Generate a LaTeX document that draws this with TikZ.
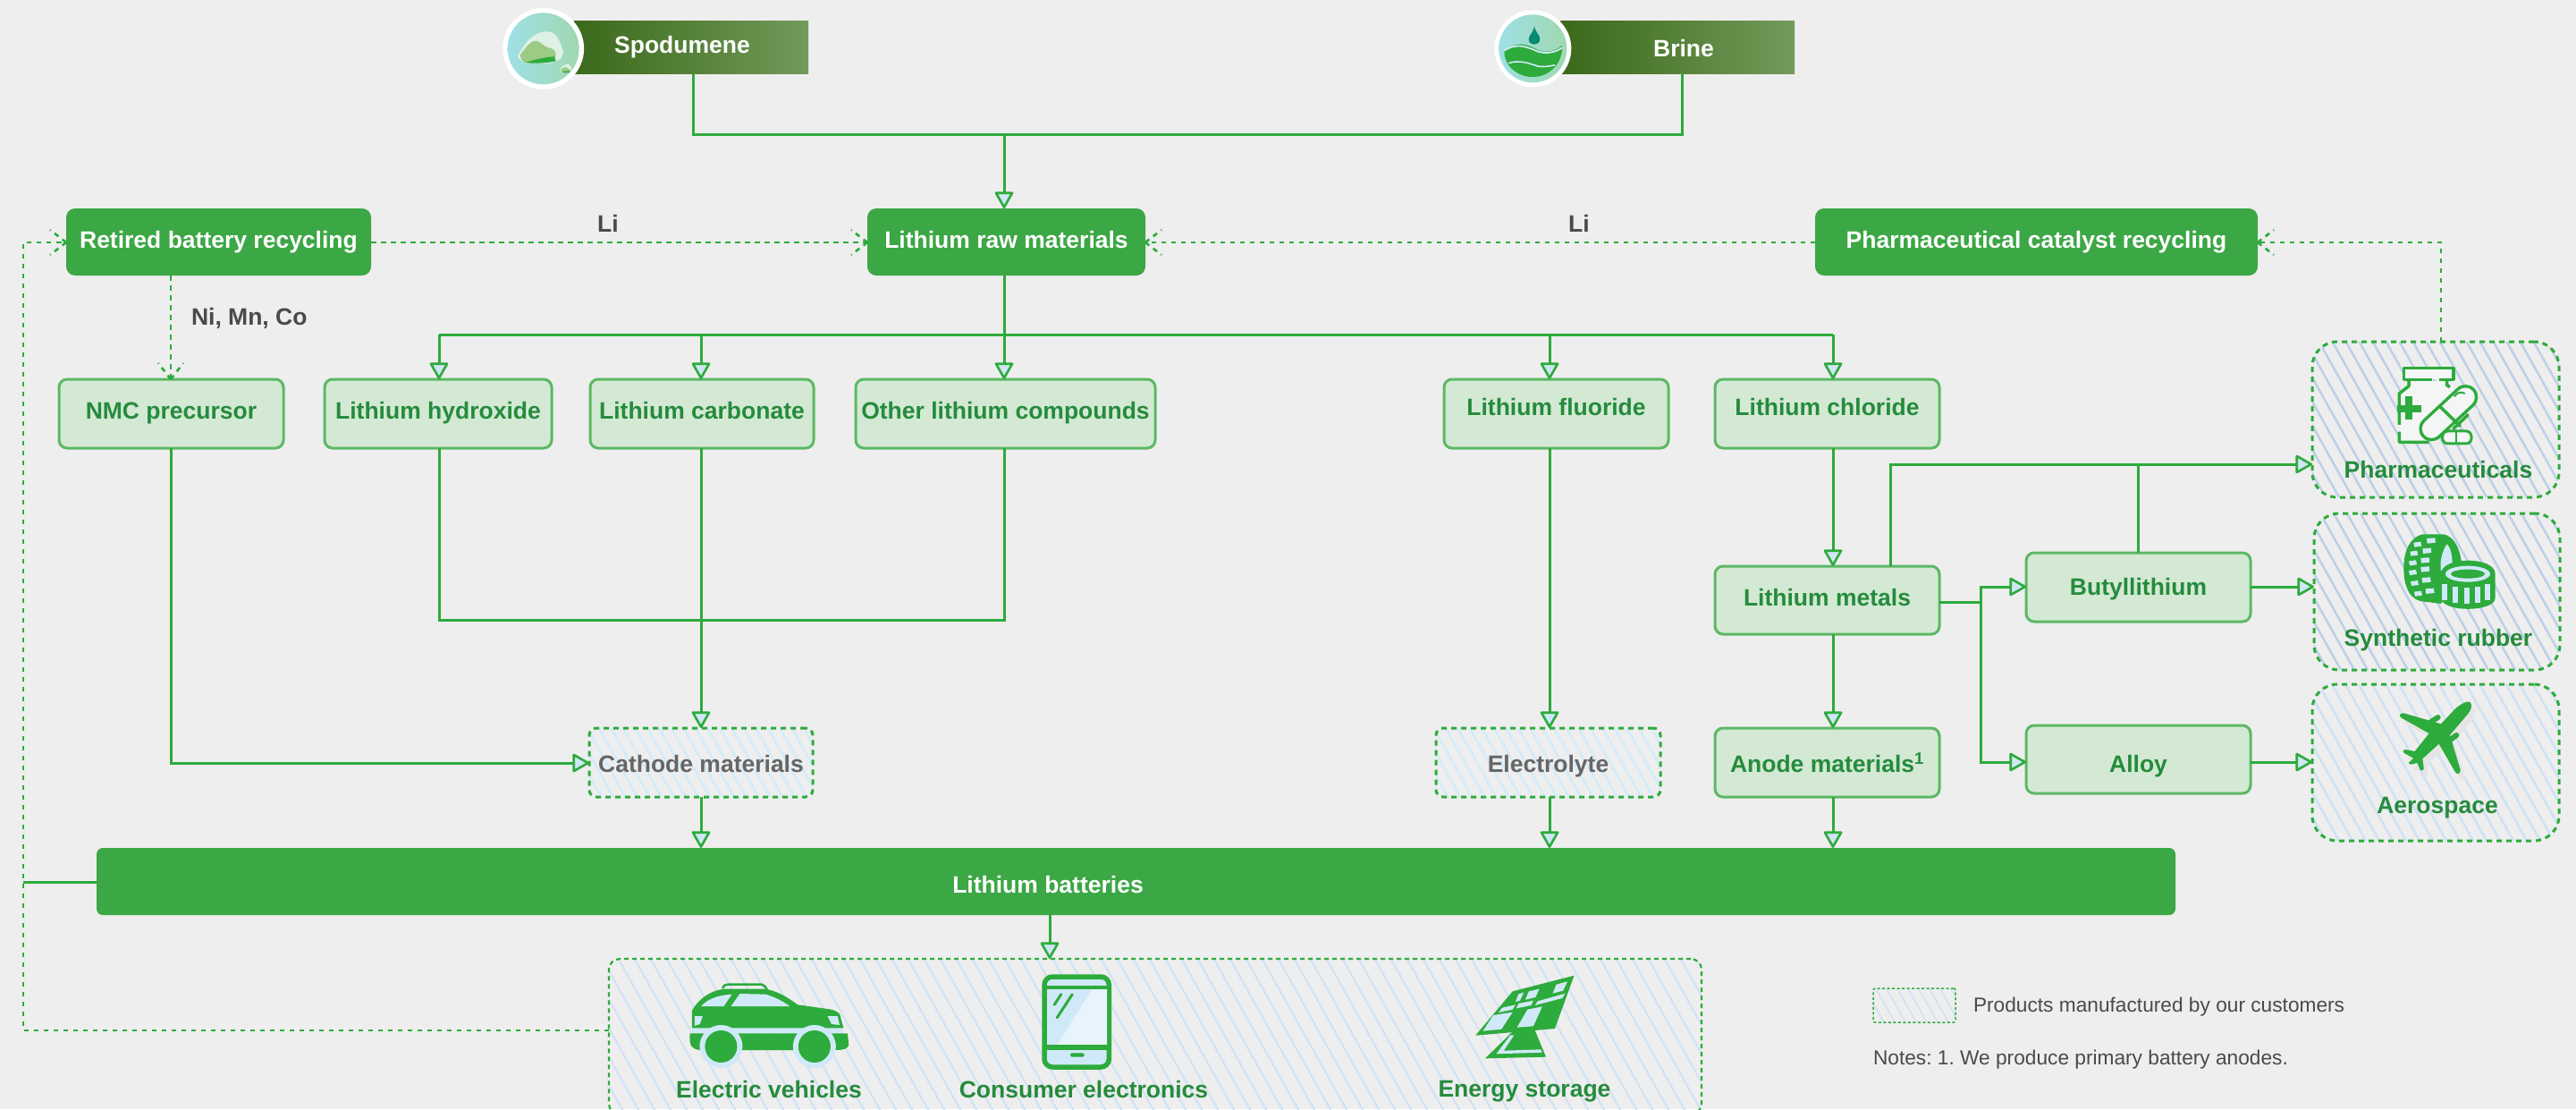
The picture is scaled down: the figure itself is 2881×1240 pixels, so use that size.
\documentclass[tikz,border=0pt]{standalone}
\usepackage{fontspec}
\setmainfont{Liberation Sans}
\usetikzlibrary{arrows.meta,calc}
\definecolor{bgc}{HTML}{EEEEEE}
\definecolor{dkbox}{HTML}{3CA745}
\definecolor{palebox}{HTML}{D3E9D4}
\definecolor{paleedge}{HTML}{5CB865}
\definecolor{txtgreen}{HTML}{258B3C}
\definecolor{lne}{HTML}{2DAB3C}
\definecolor{tipfill}{HTML}{CFE6F6}
\definecolor{bana}{HTML}{3B691A}
\definecolor{banb}{HTML}{729A5A}
\definecolor{greytxt}{HTML}{666666}
\definecolor{darktxt}{HTML}{4A4A4A}
\definecolor{hatchA}{HTML}{BDD0E6}
\definecolor{hatchB}{HTML}{CFE2F4}
\definecolor{hatchC}{HTML}{D2ECFA}
\definecolor{iconblue}{HTML}{D0E9F8}
\definecolor{circa}{HTML}{9FE0E6}
\definecolor{circb}{HTML}{9FD8B0}
\definecolor{rockpale}{HTML}{DFF0E6}
\definecolor{rockmid}{HTML}{9BCB85}
\definecolor{bottlefill}{HTML}{F4F5F5}
\newcommand{\myfs}{\bfseries\fontsize{26.5}{30}\selectfont}
\tikzset{
 basebox/.style={rectangle,inner sep=0pt,outer sep=0pt,font=\myfs},
 darkbox/.style={basebox,fill=dkbox,text=white,rounded corners=10pt,text height=19pt,text depth=5pt},
 palenode/.style={basebox,fill=palebox,draw=paleedge,line width=3pt,rounded corners=9pt,text=txtgreen},
 midbox/.style={basebox,draw=lne,line width=3pt,dash pattern=on 6pt off 5pt,rounded corners=8pt,text=greytxt},
 prodbox/.style={basebox,draw=lne,line width=3pt,dash pattern=on 6pt off 5pt,rounded corners=28pt},
 prodlabel/.style={basebox,text=txtgreen},
 banner/.style={basebox,left color=bana,right color=banb,text=white},
 plain/.style={basebox,text=white},
 lab/.style={basebox,text=darktxt},
 ln/.style={draw=lne,line width=3pt},
 ar/.style={ln,-{Triangle[length=20pt,width=22pt,fill=tipfill,line width=2.6pt,round]}},
 dl/.style={draw=lne,line width=2.6pt,dash pattern=on 5.5pt off 5.5pt},
 note/.style={inner sep=0pt,outer sep=0pt,text=darktxt,font=\frenchspacing\fontsize{22.7}{28}\selectfont,anchor=west},
}
\newcommand{\bx}[7]{%
 \pgfmathsetmacro\myc{(#3+#5)/2}\pgfmathsetmacro\myd{(#4+#6)/2}%
 \pgfmathsetmacro\myw{#5-#3}\pgfmathsetmacro\myh{#6-#4}%
 \node[#2,minimum width=\myw pt,minimum height=\myh pt] (#1) at (\myc,\myd) {#7};}
\newcommand{\myhatch}[8]{%
 \begin{scope}
 \clip[rounded corners=#5 pt] (#1,#2) rectangle (#3,#4);
 \pgfmathsetmacro\myhh{#4-#2}
 \pgfmathsetmacro\mystart{#1-0.56*\myhh-#7}
 \pgfmathsetmacro\mynext{\mystart+#7}
 \foreach \q in {\mystart,\mynext,...,#3}{\draw[#6,line width=#8 pt] (\q,#2) -- (\q+0.56*\myhh,#4);}
 \end{scope}}
\newcommand{\planeshape}{(668,135) .. controls (655,130) and (640,140) .. (620,155) -- (570,208) -- (445,172) .. controls (432,172) and (428,180) .. (436,187) -- (530,240) -- (482,300) -- (450,294) .. controls (440,296) and (442,304) .. (450,308) -- (478,323) -- (462,338) .. controls (462,346) and (470,346) .. (490,338) -- (500,362) .. controls (508,368) and (514,362) .. (512,352) -- (508,325) -- (563,275) -- (618,370) .. controls (626,380) and (636,374) .. (635,362) -- (600,245) -- (660,175) .. controls (672,160) and (676,145) .. (668,135) -- cycle}
\begin{document}
\begin{tikzpicture}[x=1pt,y=-1pt]
\useasboundingbox (0,0) rectangle (2881,1240);
\fill[bgc] (0,0) rectangle (2881,1240);
% hatches
\myhatch{2586}{382}{2862}{556}{28}{hatchA}{15}{2.5}
\myhatch{2588}{574}{2863}{749}{28}{hatchA}{15}{2.5}
\myhatch{2586}{765}{2862}{940}{28}{hatchB}{15}{2.5}
\myhatch{681}{1072}{1903}{1246}{12}{hatchB}{18}{2}
\myhatch{659}{814}{909}{891}{8}{hatchC}{13.5}{2.5}
\myhatch{1606}{814}{1857}{891}{8}{hatchC}{13.5}{2.5}
\myhatch{2095}{1105}{2187}{1143}{3}{hatchB}{12}{1.5}
% banners
\bx{spod}{banner}{642}{23}{904}{82}{}
\bx{brine}{banner}{1745}{23}{2007}{82}{}
\node[plain] (spodt) at (763,53) {Spodumene};
\node[plain] (brinet) at (1883,54) {Brine};
% boxes
\bx{retired}{darkbox}{74}{233}{415}{308}{Retired battery recycling}
\bx{raw}{darkbox}{970}{233}{1281}{308}{Lithium raw materials}
\bx{catalyst}{darkbox}{2030}{233}{2525}{308}{Pharmaceutical catalyst recycling}
\bx{nmc}{palenode,text height=19pt,text depth=7pt}{66}{424}{317}{501}{NMC precursor}
\bx{hydroxide}{palenode,text height=19pt,text depth=7pt}{363}{424}{617}{501}{Lithium hydroxide}
\bx{carbonate}{palenode,text height=19pt,text depth=7pt}{660}{424}{910}{501}{Lithium carbonate}
\bx{other}{palenode,text height=19pt,text depth=7pt}{957}{424}{1292}{501}{Other lithium compounds}
\bx{fluoride}{palenode,text height=19pt,text depth=16pt}{1615}{424}{1866}{501}{Lithium fluoride}
\bx{chloride}{palenode,text height=19pt,text depth=16pt}{1918}{424}{2169}{501}{Lithium chloride}
\bx{metals}{palenode,text height=19pt,text depth=6pt}{1918}{633}{2169}{709}{Lithium metals}
\bx{butyl}{palenode,text height=19pt,text depth=1pt}{2266}{618}{2517}{695}{Butyllithium}
\bx{alloy}{palenode,text height=29pt,text depth=0pt}{2266}{811}{2517}{887}{Alloy}
\bx{anode}{palenode,text height=22pt,text depth=0pt}{1918}{814}{2169}{891}{Anode materials\textsuperscript{1}}
\bx{cathode}{midbox,text height=22pt,text depth=0pt}{659}{814}{909}{891}{Cathode materials}
\bx{electrolyte}{midbox,text height=22pt,text depth=0pt}{1606}{814}{1857}{891}{Electrolyte}
\bx{batteries}{basebox,fill=dkbox,rounded corners=7pt}{108}{948}{2433}{1023}{}
\node[plain] (batt) at (1172,989) {Lithium batteries};
% product boxes
\bx{pharm}{prodbox}{2586}{382}{2862}{556}{}
\bx{rubber}{prodbox}{2588}{574}{2863}{749}{}
\bx{aero}{prodbox}{2586}{765}{2862}{940}{}
\bx{users}{basebox,draw=lne,line width=2.2pt,dash pattern=on 5pt off 4pt,rounded corners=12pt}{681}{1072}{1903}{1246}{}
\bx{legend}{basebox,draw=lne,line width=1.5pt,dash pattern=on 3pt off 2.5pt,rounded corners=2pt}{2095}{1105}{2187}{1143}{}
\node[prodlabel] (pharmt) at (2727,525) {Pharmaceuticals};
\node[prodlabel] (rubbert) at (2727,716) {Synthetic rubber};
\node[prodlabel] (aerot) at (2726,903) {Aerospace};
\node[prodlabel] (evt) at (860,1218) {Electric vehicles};
\node[prodlabel] (cet) at (1212,1218) {Consumer electronics};
\node[prodlabel] (est) at (1705,1220) {Energy storage};
\node[lab] (li1) at (680,250) {Li};
\node[lab] (li2) at (1766,250) {Li};
\node[lab,anchor=west] (nmco) at (214,356) {Ni, Mn, Co};
\node[note] (legt) at (2207,1126) {Products manufactured by our customers};
\node[note] (notes) at (2095,1185) {Notes: 1. We produce primary battery anodes.};
% guides
\coordinate (xs) at (775,0); \coordinate (xb) at (1881,0); \coordinate (ytop) at (0,150);
\coordinate (xhy) at (491,0); \coordinate (xca) at (784,0); \coordinate (xot) at (1123,0);
\coordinate (xfl) at (1733,0); \coordinate (xcl) at (2050,0); \coordinate (bus) at (0,374);
\coordinate (ymix) at (0,693); \coordinate (ynmc) at (0,853); \coordinate (xnmc) at (191,0);
\coordinate (xup) at (2114,0); \coordinate (xbu) at (2391,0); \coordinate (yph) at (0,519);
\coordinate (xsp) at (2215,0); \coordinate (ymet) at (0,673); \coordinate (ybut) at (0,656);
\coordinate (yall) at (0,852); \coordinate (xuse) at (1174,0); \coordinate (xlf) at (26,0);
\coordinate (ybat) at (0,986); \coordinate (yuse) at (0,1152); \coordinate (xph) at (2730,0);
\coordinate (yrec) at (0,271);
% solid connectors
\draw[ln] (xs |- spod.south) -- (xs |- ytop) -- (xb |- ytop) -- (xb |- brine.south);
\draw[ar] (xot |- ytop) -- (xot |- raw.north);
\draw[ln] (xot |- raw.south) -- (xot |- bus);
\draw[ln] (xhy |- bus) -- (xcl |- bus);
\draw[ar] (xhy |- bus) -- (xhy |- hydroxide.north);
\draw[ar] (xca |- bus) -- (xca |- carbonate.north);
\draw[ar] (xot |- bus) -- (xot |- other.north);
\draw[ar] (xfl |- bus) -- (xfl |- fluoride.north);
\draw[ar] (xcl |- bus) -- (xcl |- chloride.north);
\draw[ln] (xhy |- hydroxide.south) -- (xhy |- ymix) -- (xot |- ymix) -- (xot |- other.south);
\draw[ar] (xca |- carbonate.south) -- (xca |- cathode.north);
\draw[ar] (xnmc |- nmc.south) -- (xnmc |- ynmc) -- (cathode.west |- ynmc);
\draw[ar] (xca |- cathode.south) -- (xca |- batteries.north);
\draw[ar] (xfl |- fluoride.south) -- (xfl |- electrolyte.north);
\draw[ar] (xfl |- electrolyte.south) -- (xfl |- batteries.north);
\draw[ar] (xcl |- chloride.south) -- (xcl |- metals.north);
\draw[ar] (xcl |- metals.south) -- (xcl |- anode.north);
\draw[ar] (xcl |- anode.south) -- (xcl |- batteries.north);
\draw[ar] (xup |- metals.north) -- (xup |- yph) -- (pharm.west |- yph);
\draw[ln] (xbu |- butyl.north) -- (xbu |- yph);
\draw[ln] (metals.east |- ymet) -- (xsp |- ymet);
\draw[ar] (xsp |- ymet) -- (xsp |- ybut) -- (butyl.west |- ybut);
\draw[ar] (xsp |- ymet) -- (xsp |- yall) -- (alloy.west |- yall);
\draw[ar] (butyl.east |- ybut) -- (rubber.west |- ybut);
\draw[ar] (alloy.east |- yall) -- (aero.west |- yall);
\draw[ar] (xuse |- batteries.south) -- (xuse |- users.north);
\draw[ln] (batteries.west |- ybat) -- (xlf |- ybat);
% dashed connectors
\draw[dl] (users.west |- yuse) -- (xlf |- yuse) -- (xlf |- yrec) -- (retired.west |- yrec);
\draw[dl] (retired.west |- yrec) -- ++(-18,-14);
\draw[dl] (retired.west |- yrec) -- ++(-18,14);
\draw[dl] (retired.east |- yrec) -- (raw.west |- yrec);
\draw[dl] (raw.west |- yrec) -- ++(-18,-14);
\draw[dl] (raw.west |- yrec) -- ++(-18,14);
\draw[dl] (catalyst.west |- yrec) -- (raw.east |- yrec);
\draw[dl] (raw.east |- yrec) -- ++(18,-14);
\draw[dl] (raw.east |- yrec) -- ++(18,14);
\draw[dl] (xph |- pharm.north) -- (xph |- yrec) -- (catalyst.east |- yrec);
\draw[dl] (catalyst.east |- yrec) -- ++(18,-14);
\draw[dl] (catalyst.east |- yrec) -- ++(18,14);
\draw[dl] (xnmc |- retired.south) -- (xnmc |- nmc.north);
\draw[dl] (xnmc |- nmc.north) -- ++(-14,-18);
\draw[dl] (xnmc |- nmc.north) -- ++(14,-18);
% spodumene icon
\begin{scope}[shift={(500,0)},x=0.3333pt,y=-0.3333pt]
 \fill[white] (323,163) circle[radius=45.5pt];
 \shade[left color=circa,right color=circb] (323,163) circle[radius=40pt];
 \fill[rockpale] (237,188) .. controls (255,155) and (280,110) .. (330,106) .. controls (365,104) and (375,125) .. (390,175) .. controls (390,195) and (375,205) .. (345,212) -- (265,212) .. controls (250,205) and (240,200) .. (237,188) -- cycle;
 \fill[rockmid] (245,185) .. controls (260,165) and (280,135) .. (300,137) .. controls (320,142) and (325,160) .. (350,162) .. controls (368,168) and (368,195) .. (360,205) -- (262,210) .. controls (250,205) and (245,195) .. (245,185) -- cycle;
 \fill[lne] (262,210) .. controls (300,198) and (340,190) .. (360,190) -- (365,205) .. controls (330,212) and (290,214) .. (262,210) -- cycle;
 \fill[rockpale] (380,235) .. controls (385,215) and (410,205) .. (418,228) -- (412,245) -- (385,245) -- cycle;
 \fill[rockmid] (382,236) .. controls (390,220) and (405,222) .. (415,240) -- (390,244) -- cycle;
 \fill[lne] (385,240) -- (413,238) -- (410,244) -- (392,244) -- cycle;
\end{scope}
% brine icon
\begin{scope}[shift={(1640,0)},x=0.3333pt,y=-0.3333pt]
 \fill[white] (223,163) circle[radius=43pt];
 \shade[left color=circa,right color=circb] (223,163) circle[radius=38pt];
 \fill[lne] (127,170) .. controls (170,135) and (210,150) .. (240,168) .. controls (270,180) and (300,170) .. (321,153) .. controls (325,210) and (280,258) .. (223,258) .. controls (165,258) and (125,215) .. (127,170) -- cycle;
 \draw[iconblue,line width=1.8pt] (127,170) .. controls (170,140) and (210,160) .. (240,173) .. controls (270,182) and (300,175) .. (321,160);
 \draw[iconblue,line width=1.6pt] (142,212) .. controls (175,200) and (210,212) .. (240,222) .. controls (260,226) and (280,222) .. (298,218);
 \fill[teal!80!lne] (228,88) .. controls (232,110) and (248,118) .. (247,132) .. controls (245,155) and (210,155) .. (209,132) .. controls (209,118) and (225,110) .. (228,88) -- cycle;
\end{scope}
% pharmaceuticals icon
\begin{scope}[shift={(2540,360)},x=0.3333pt,y=-0.3333pt]
 \fill[bottlefill] (462,195) -- (462,215) -- (430,240) -- (430,400) -- (540,400) -- (640,260) -- (600,200) -- cycle;
 \fill[bottlefill] (445,155) rectangle (612,193);
 \draw[lne,line width=3.5pt,line join=round] (565,193) -- (612,193) -- (612,155) -- (445,155) -- (445,193) -- (540,193);
 \draw[lne,line width=3.5pt,line join=round] (462,195) -- (462,215) -- (430,240) -- (430,345) (430,368) -- (430,403) -- (530,403);
 \draw[lne,line width=3.5pt] (590,195) -- (590,212) -- (600,218);
 \draw[lne,line width=8pt] (463,250) -- (463,328) (424,290) -- (503,290);
 \draw[lne,line cap=round,line width=28pt] (538,358) -- (652,252);
 \draw[bottlefill,line cap=round,line width=21pt] (538,358) -- (652,252);
 \draw[bgc,line width=5pt] (692,302) -- (677,290);
 \draw[lne,line width=3.5pt] (565,282) -- (635,350);
 \draw[lne,line width=3.5pt,line cap=round] (660,312) -- (612,358);
 \draw[lne,line width=2pt] (615,250) .. controls (622,236) and (640,232) .. (650,240);
 \draw[lne,line width=3pt,fill=bottlefill,rounded corners=6pt] (575,366) rectangle (672,408);
 \draw[lne,line width=2pt] (622,366) -- (622,408);
\end{scope}
% rubber icon
\begin{scope}[shift={(2540,360)},x=0.3333pt,y=-0.3333pt]
 \fill[lne] (510,712) -- (575,712) .. controls (620,715) and (640,780) .. (640,825) -- (570,945) -- (500,936) .. controls (460,925) and (445,880) .. (445,825) .. controls (445,770) and (465,720) .. (510,712) -- cycle;
 \foreach \a/\b in {478/740,466/770,462/802,462/834,468/870,480/905}{\fill[iconblue] (\a,\b) -- ++(24,-3) -- ++(3,15) -- ++(-24,3) -- cycle;}
 \foreach \a/\b in {522/726,508/760,502/792,502/822,506/858,518/895}{\fill[iconblue] (\a,\b) -- ++(28,-2) -- ++(2,16) -- ++(-28,3) -- cycle;}
 \fill[iconblue] (590,745) .. controls (572,770) and (565,810) .. (570,835) -- (608,812) .. controls (608,790) and (605,760) .. (590,745) -- cycle;
 \fill[lne] (570,845) .. controls (570,785) and (752,785) .. (752,845) -- (752,925) .. controls (752,975) and (570,975) .. (570,925) -- cycle;
 \fill[iconblue] (660,845) circle[x radius=25pt,y radius=9pt];
 \fill[lne] (660,845) circle[x radius=19pt,y radius=5pt];
 \foreach \a/\b in {573/878,610/888,647/890,683/888,718/878}{\fill[iconblue] (\a,\b) rectangle (\a+18,\b+55);}
\end{scope}
% plane icon
\begin{scope}[shift={(2540,740)},x=0.3333pt,y=-0.3333pt]
 \begin{scope}[shift={(14,20)}]\fill[black!10] \planeshape;\end{scope}
 \fill[lne] \planeshape;
 \draw[lne,line width=6pt,line cap=round] (538,200) -- (560,186) (600,262) -- (622,246);
\end{scope}
% car icon
\begin{scope}[shift={(660,1040)},x=0.4464pt,y=-0.3333pt]
 \fill[iconblue] (255,328) rectangle (635,346);
 \fill[lne] (255,270) .. controls (270,235) and (295,205) .. (335,197) -- (440,197) .. controls (470,205) and (495,225) .. (520,250) -- (600,265) .. controls (620,270) and (628,280) .. (628,295) -- (635,328) -- (255,328) -- cycle;
 \fill[lne] (250,346) -- (645,346) -- (648,385) .. controls (645,398) and (635,402) .. (615,402) -- (275,402) .. controls (255,398) and (248,392) .. (250,346) -- cycle;
 \draw[lne,line width=2.5pt] (332,195) .. controls (335,185) and (338,182) .. (345,182) -- (430,182) .. controls (436,184) and (440,190) .. (443,198);
 \fill[iconblue] (278,255) .. controls (295,230) and (320,218) .. (355,215) -- (335,255) -- cycle;
 \fill[iconblue] (353,255) -- (375,213) -- (440,215) .. controls (465,225) and (485,240) .. (500,255) -- cycle;
 \fill[iconblue] (262,288) -- (282,288) -- (275,315) -- (262,320) -- cycle;
 \fill[iconblue] (595,288) -- (620,288) -- (625,318) -- (605,315) -- cycle;
 \fill[iconblue] (328,390) circle[radius=24pt];
 \fill[iconblue] (562,390) circle[radius=24pt];
 \fill[lne] (328,390) circle[radius=18pt];
 \fill[lne] (562,390) circle[radius=18pt];
\end{scope}
% phone icon
\begin{scope}[shift={(660,1040)},x=0.4464pt,y=-0.3333pt]
 \draw[lne,line width=5.5pt,fill=iconblue,rounded corners=9pt] (1138,156) rectangle (1300,459);
 \fill[white!50!iconblue] (1258,197) -- (1295,197) -- (1295,385) -- (1170,385) -- cycle;
 \fill[lne] (1140,185) rectangle (1298,197);
 \fill[lne] (1140,385) rectangle (1298,402);
 \fill[lne,rounded corners=2pt] (1203,412) rectangle (1238,425);
 \draw[lne,line width=3pt,line cap=round] (1180,215) -- (1163,250) (1208,215) -- (1170,293);
\end{scope}
% solar icon
\begin{scope}[shift={(1360,1040)},x=0.8292pt,y=-0.3333pt]
 \fill[lne] (400,205) -- (483,152) -- (457,330) -- (350,353) -- cycle;
 \fill[iconblue] (459,182) -- (474,172) -- (468,203) -- (454,212) -- cycle;
 \fill[iconblue] (422,205) -- (436,197) -- (431,225) -- (417,233) -- cycle;
 \fill[iconblue] (408,214) -- (415,209) -- (410,236) -- (404,240) -- cycle;
 \fill[iconblue] (434,238) -- (471,212) -- (467,228) -- (430,252) -- cycle;
 \fill[iconblue] (408,246) -- (428,236) -- (425,252) -- (405,262) -- cycle;
 \fill[iconblue] (386,260) -- (404,250) -- (400,266) -- (381,276) -- cycle;
 \fill[iconblue] (420,266) -- (440,256) -- (428,322) -- (406,326) -- cycle;
 \fill[iconblue] (374,285) -- (400,275) -- (385,332) -- (360,338) -- cycle;
 \fill[lne] (400,340) -- (430,335) -- (445,425) -- (363,430) -- cycle;
 \fill[iconblue] (397,352) -- (402,352) -- (388,404) -- (438,400) -- (440,410) -- (378,415) -- cycle;
\end{scope}
\end{tikzpicture}
\end{document}
